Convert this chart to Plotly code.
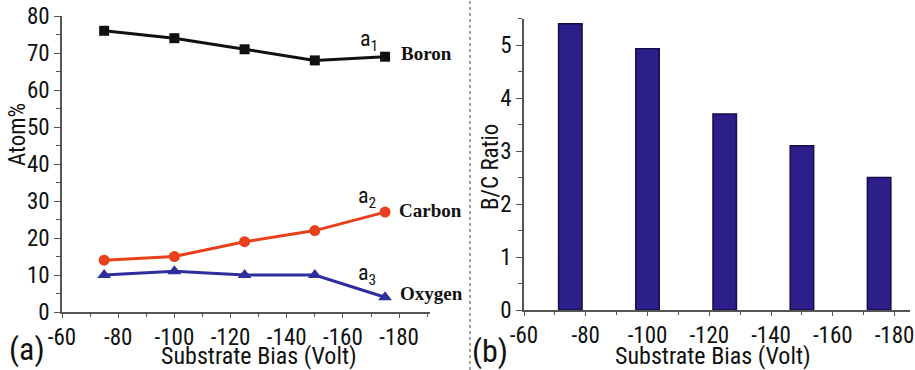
import plotly.graph_objects as go

# ---- data ----
bias = [-75, -100, -125, -150, -175]
boron = [76, 74, 71, 68, 69]
carbon = [14, 15, 19, 22, 27]
oxygen = [10, 11, 10, 10, 4]
bc_ratio = [5.4, 4.93, 3.7, 3.1, 2.5]
x_ticks = [-60, -80, -100, -120, -140, -160, -180]
x_ticklabels = ["-60", "-80", "-100", "-120", "-140", "-160", "-180"]
y1_ticks = [0, 10, 20, 30, 40, 50, 60, 70, 80]
y2_ticks = [0, 1, 2, 3, 4, 5]
series_names = ["Boron", "Carbon", "Oxygen"]
series_tags = ["a<sub>1</sub>", "a<sub>2</sub>", "a<sub>3</sub>"]

W, H = 915, 370
def px(x):
    return min(1.0, max(0.0, x / W))
def py(y):
    return min(1.0, max(0.0, 1 - y / H))

FONT = "Liberation Sans Narrow, Arial Narrow, Roboto Condensed, Liberation Sans, Arial, sans-serif"
SERIF = "Liberation Serif, Times New Roman, serif"
AX = "#555555"

fig = go.Figure()
colors = ["#111111", "#E8401C", "#2E2E9E"]
symbols = ["square", "circle", "triangle-up"]
sizes = [10, 11, 12]
for vals, c, s, sz, nm in zip([boron, carbon, oxygen], colors, symbols, sizes, series_names):
    fig.add_trace(go.Scatter(x=bias, y=vals, mode="lines+markers", name=nm,
                             line=dict(color=c, width=3),
                             marker=dict(symbol=s, size=sz, color=c),
                             xaxis="x", yaxis="y"))

fig.add_trace(go.Bar(x=bias, y=bc_ratio, width=7.6,
                     marker=dict(color="#2D1F8A", line=dict(color="#150d45", width=1.5)),
                     xaxis="x2", yaxis="y2"))

common = dict(showgrid=False, zeroline=False, showline=True, linecolor=AX, linewidth=1.5,
              ticks="outside", ticklen=6, tickcolor=AX, tickwidth=1.2, automargin=False,
              ticklabeloverflow="allow",
              tickfont=dict(family=FONT, size=23, color="#111111"))
xcommon = dict(common, ticklen=4)

fig.update_layout(
    template="none",
    width=W, height=H, margin=dict(l=0, r=0, t=0, b=0, pad=0, autoexpand=False),
    paper_bgcolor="white", plot_bgcolor="white", showlegend=False,
    xaxis=dict(domain=[px(62), px(430)], range=[-60, -191], tickvals=x_ticks, ticktext=x_ticklabels,
               anchor="y",
               minor=dict(dtick=10, tick0=0, ticks="outside", ticklen=3, tickcolor=AX), **xcommon),
    yaxis=dict(domain=[py(312), py(16)], range=[0, 80], tickvals=y1_ticks, anchor="x",
               minor=dict(dtick=5, tick0=0, ticks="outside", ticklen=4, tickcolor=AX), **common),
    xaxis2=dict(domain=[px(524), px(910)], range=[-60, -185], tickvals=x_ticks, ticktext=x_ticklabels,
                anchor="y2",
                minor=dict(dtick=10, tick0=0, ticks="outside", ticklen=3, tickcolor=AX), **xcommon),
    yaxis2=dict(domain=[py(310), py(18.5)], range=[0, 5.5], tickvals=y2_ticks, anchor="x2",
                minor=dict(dtick=0.5, tick0=0, ticks="outside", ticklen=4, tickcolor=AX), **common),
)

ann = []
def paper_text(text, x, y, size, angle=0):
    return dict(text=text, x=px(x), y=py(y), xref="paper", yref="paper", textangle=angle,
                xanchor="center", yanchor="middle", showarrow=False,
                font=dict(family=FONT, size=size, color="#111"))
# axis titles
ann.append(paper_text("Substrate Bias (Volt)", 259, 356, 24))
ann.append(paper_text("Substrate Bias (Volt)", 713, 356, 24))
ann.append(paper_text("Atom%", 17, 135, 23, -90))
ann.append(paper_text("B/C Ratio", 490, 167, 23, -90))
# panel labels
ann.append(paper_text("(a)", 27, 349, 32))
ann.append(paper_text("(b)", 490, 351, 32))
# series labels anchored to last point
name_shift = [(14, 3), (12, 2), (13, 4)]
tag_shift = [(-16, 16), (-18, 15), (-18, 23)]
for vals, nm, tg, ns, ts in zip([boron, carbon, oxygen], series_names, series_tags, name_shift, tag_shift):
    ann.append(dict(text="<b>" + nm + "</b>", x=bias[-1], y=vals[-1], xref="x", yref="y",
                    xanchor="left", yanchor="middle", xshift=ns[0], yshift=ns[1], showarrow=False,
                    font=dict(family=SERIF, size=19, color="#111")))
    ann.append(dict(text=tg, x=bias[-1], y=vals[-1], xref="x", yref="y",
                    xanchor="center", yanchor="middle",
                    xshift=ts[0], yshift=ts[1], showarrow=False,
                    font=dict(family=FONT, size=22, color="#111")))
fig.update_layout(annotations=ann)

# dotted separator
fig.add_shape(type="line", xref="paper", yref="paper", x0=px(470), x1=px(470), y0=0, y1=1,
              line=dict(color="#444444", width=1, dash="dot"))

# remove the default page margin so the 915x370 figure fills the window exactly
fig.write_html("out.html", config={"displayModeBar": False},
               post_script="document.body.style.margin='0';document.body.style.overflow='hidden';")
